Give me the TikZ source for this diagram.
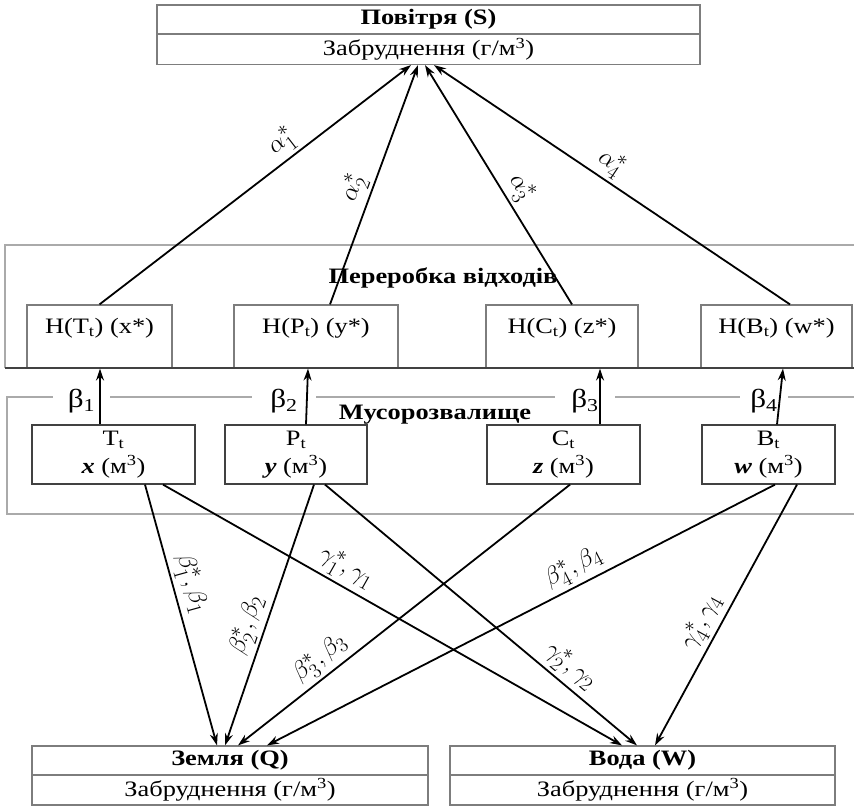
\documentclass[tikz,border=0pt]{standalone}
\usepackage{fontspec}
\setmainfont{Liberation Serif}[FakeStretch=1.2]
\usepackage{amsmath}
\usepackage{tikz}
\usetikzlibrary{positioning, arrows.meta}
\definecolor{framegray}{RGB}{170, 170, 170}
\definecolor{boxgray}{RGB}{125, 125, 125}
\definecolor{darkbox}{RGB}{65, 65, 65}

\begin{document}
\begin{tikzpicture}[x=1pt, y=-1pt,
    cell/.style={draw=boxgray, line width=1.2pt, inner sep=0pt, font=\fontsize{22}{26}\selectfont},
    headcell/.style={cell, minimum height=29pt, font=\fontsize{22}{26}\selectfont\bfseries},
    hbox/.style={cell, minimum height=63pt, text height=20pt, text depth=27pt},
    srcbox/.style={cell, draw=darkbox, minimum height=59pt, align=center, font=\fontsize{22}{28}\selectfont},
    paneltitle/.style={inner sep=0pt, font=\fontsize{22}{26}\selectfont\bfseries},
    betatag/.style={fill=white, inner sep=0pt, minimum height=26pt, font=\fontsize{26}{28}\selectfont},
    arr/.style={line width=1.8pt, -{Stealth[length=12pt, width=8pt]}},
    coef/.style={sloped, above, inner sep=3pt, font=\fontsize{24.88}{28}\selectfont}]
  \useasboundingbox (0,0) rectangle (854,806);

  % air on top
  \node[headcell, minimum width=543pt] (airT) at (428.5,19.5) {Повітря (S)};
  \node[cell, minimum width=543pt, minimum height=30pt] (air) at (428.5,49.5) {Забруднення (г/м\textsuperscript{3})};

  % waste processing
  \draw[framegray, line width=1.2pt] (854,245) -- (5,245) -- (5,368);
  \node[paneltitle] (proc) at (443,278) {Переробка відходів};
  \node[hbox, minimum width=145pt] (HT) at (99.5,336.5) {H(T\textsubscript{t}) (x*)};
  \node[hbox, minimum width=164pt] (HP) at (316,336.5) {H(P\textsubscript{t}) (y*)};
  \node[hbox, minimum width=152pt] (HC) at (562,336.5) {H(C\textsubscript{t}) (z*)};
  \node[hbox, minimum width=151pt] (HB) at (776.5,336.5) {H(B\textsubscript{t}) (w*)};
  \draw[darkbox, line width=1.6pt] (5,368) -- (854,368);

  % dump
  \draw[framegray, line width=1.2pt] (854,397) -- (7,397) -- (7,514) -- (854,514);
  \node[betatag, minimum width=57pt] (b1) at (81.5,401) {β\textsubscript{1}};
  \node[betatag, minimum width=64pt] (b2) at (284,401) {β\textsubscript{2}};
  \node[betatag, minimum width=60pt] (b3) at (585,401) {β\textsubscript{3}};
  \node[betatag, minimum width=48pt] (b4) at (764,401) {β\textsubscript{4}};
  \node[paneltitle] (dump) at (435,415) {Мусорозвалище};
  \node[srcbox, minimum width=163pt] (Tt) at (113.5,454.5) {T\textsubscript{t}\\\textbf{\textit{x}} (м\textsuperscript{3})};
  \node[srcbox, minimum width=142pt] (Pt) at (296,454.5) {P\textsubscript{t}\\\textbf{\textit{y}} (м\textsuperscript{3})};
  \node[srcbox, minimum width=153pt] (Ct) at (563.5,454.5) {C\textsubscript{t}\\\textbf{\textit{z}} (м\textsuperscript{3})};
  \node[srcbox, minimum width=133pt] (Bt) at (768.5,454.5) {B\textsubscript{t}\\\textbf{\textit{w}} (м\textsuperscript{3})};

  % soil and water
  \node[headcell, minimum width=396pt] (soilT) at (230,760.5) {Земля (Q)};
  \node[cell, minimum width=396pt, minimum height=30pt] (soil) at (230,790) {Забруднення (г/м\textsuperscript{3})};
  \node[headcell, minimum width=385pt] (waterT) at (642.5,760.5) {Вода (W)};
  \node[cell, minimum width=385pt, minimum height=30pt] (water) at (642.5,790) {Забруднення (г/м\textsuperscript{3})};

  % dump -> processing
  \draw[arr] ([xshift=-13.5pt]Tt.north) -- ([xshift=0.5pt]HT.south);
  \draw[arr] ([xshift=10pt]Pt.north) -- ([xshift=-8pt]HP.south);
  \draw[arr] ([xshift=36.5pt]Ct.north) -- ([xshift=38pt]HC.south);
  \draw[arr] ([xshift=8.5pt]Bt.north) -- ([xshift=6.5pt]HB.south);

  % processing -> air
  \draw[arr] (HT.north) -- node[coef, pos=0.62] {$\alpha_1^{*}$} ([xshift=-17.5pt]air.south);
  \draw[arr] ([xshift=14pt]HP.north) -- node[coef, pos=0.46] {$\alpha_2^{*}$} ([xshift=-10.5pt]air.south);
  \draw[arr] ([xshift=10pt]HC.north) -- node[coef, pos=0.45] {$\alpha_3^{*}$} ([xshift=-3.5pt]air.south);
  \draw[arr] ([xshift=13.5pt]HB.north) -- node[coef, pos=0.53] {$\alpha_4^{*}$} ([xshift=5.5pt]air.south);

  % dump -> soil
  \draw[arr] ([xshift=31.5pt]Tt.south) -- node[coef, pos=0.4] {$\beta_1^{*},\beta_1$} ([xshift=-13pt]soilT.north);
  \draw[arr] ([xshift=18pt]Pt.south) -- node[coef, pos=0.56] {$\beta_2^{*},\beta_2$} ([xshift=-5pt]soilT.north);
  \draw[arr] ([xshift=6.5pt]Ct.south) -- node[coef, pos=0.72] {$\beta_3^{*},\beta_3$} ([xshift=8pt]soilT.north);
  \draw[arr] ([xshift=6.5pt]Bt.south) -- node[coef, pos=0.38] {$\beta_4^{*},\beta_4$} ([xshift=37pt]soilT.north);

  % dump -> water
  \draw[arr] ([xshift=49.5pt]Tt.south) -- node[coef, pos=0.38] {$\gamma_1^{*},\gamma_1$} ([xshift=-20.5pt]waterT.north);
  \draw[arr] ([xshift=29pt]Pt.south) -- node[coef, pos=0.75] {$\gamma_2^{*},\gamma_2$} ([xshift=-5.5pt]waterT.north);
  \draw[arr] ([xshift=28.5pt]Bt.south) -- node[coef, pos=0.56] {$\gamma_4^{*},\gamma_4$} ([xshift=12.5pt]waterT.north);
\end{tikzpicture}
\end{document}
